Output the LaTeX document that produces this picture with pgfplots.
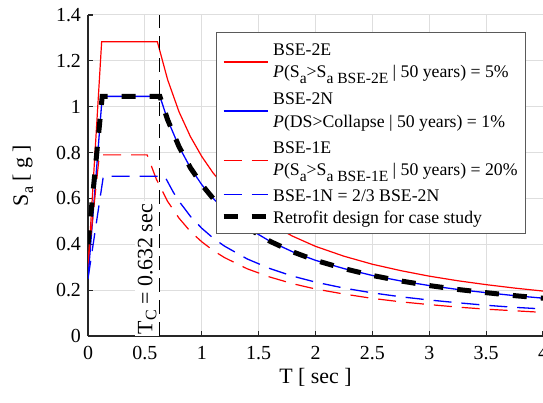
\documentclass[border=0pt]{standalone}
\usepackage{fontspec}
\setmainfont{Liberation Serif}
\usepackage{pgfplots}
\pgfplotsset{compat=1.18}
\definecolor{gridgray}{RGB}{222,222,222}
\definecolor{axgray}{RGB}{38,38,38}
\definecolor{leggray}{RGB}{90,90,90}
\newcommand\lsub[1]{\raisebox{-3bp}{\fontsize{7.8}{8}\selectfont #1}}
\newcommand\topstrut{\rule{0pt}{7.5pt}}
\newcommand\botstrut{\rule[-2.5pt]{0pt}{0pt}}
\pgfplotsset{twoline/.style={legend image code/.code={\draw[##1] (0bp,0bp) -- (22bp,0bp);}}}
\begin{document}
\begin{tikzpicture}
\begin{axis}[
  at={(0,0)}, anchor=south west,
  scale only axis, width=227.5bp, height=160.5bp,
  xmin=0, xmax=4, ymin=0, ymax=1.4,
  xtick={0,0.5,1,1.5,2,2.5,3,3.5,4},
  ytick={0,0.2,0.4,0.6,0.8,1,1.2,1.4},
  axis x line*=bottom, axis y line*=left,
  axis line style={axgray, line width=0.75bp},
  major tick length=2.5bp, tick style={axgray, line width=0.6bp},
  tick align=inside,
  grid=major, major grid style={gridgray, line width=0.5bp},
  /pgf/number format/assume math mode=true,
  ticklabel style={font=\fontsize{10}{12}\selectfont},
  xticklabel style={yshift=-1.5bp},
  label style={font=\fontsize{11}{13}\selectfont},
  xlabel={T [ sec ]}, ylabel={S\raisebox{-2.5bp}{\fontsize{8}{9}\selectfont a} [ g ]},
  xlabel style={at={(axis description cs:0.5,0)}, anchor=center, yshift=-20.5bp},
  ylabel style={at={(axis description cs:-0.143,0.5)}, anchor=center},
  legend cell align=left,
  legend image code/.code={\draw[#1] (0bp,0.6bp) -- (22bp,0.6bp);},
  legend style={at={(0.963,0.948)}, anchor=north east, draw=leggray, line width=0.6bp,
    fill=white, font=\fontsize{8.9}{11.3}\selectfont, inner sep=2.5bp, row sep=0pt,
    nodes={inner sep=1.5bp, text height=7pt, text depth=1pt}},
]
\addplot[red, line width=0.6bp, twoline] coordinates {
(0,0.29) (0.12,1.283) (0.61,1.283) (0.7,1.118) (0.8,0.978) (0.9,0.870) (1.0,0.783)
(1.1,0.711) (1.2,0.652) (1.4,0.559) (1.6,0.489) (1.8,0.435) (2.0,0.391) (2.25,0.348)
(2.5,0.313) (2.75,0.285) (3.0,0.261) (3.25,0.241) (3.5,0.224) (3.75,0.209) (4.0,0.196)};
\addlegendentry[align=left, text height=, text depth=]{\topstrut BSE-2E\\\textit{P}(S\lsub{a}>S\lsub{a BSE-2E} | 50 years) = 5\%\botstrut}
\addplot[blue, line width=0.65bp, twoline] coordinates {
(0,0.25) (0.125,1.045) (0.632,1.045) (0.7,0.943) (0.8,0.826) (0.9,0.734) (1.0,0.660)
(1.1,0.600) (1.2,0.550) (1.4,0.472) (1.6,0.413) (1.8,0.367) (2.0,0.330) (2.25,0.294)
(2.5,0.264) (2.75,0.240) (3.0,0.220) (3.25,0.203) (3.5,0.189) (3.75,0.176) (4.0,0.165)};
\addlegendentry[align=left, text height=, text depth=]{\topstrut BSE-2N\\\textit{P}(DS>Collapse | 50 years) = 1\%\botstrut}
\addplot[red, line width=0.6bp, dash pattern=on 9bp off 5bp, twoline] coordinates {
(0,0.32) (0.10,0.79) (0.52,0.79) (0.6,0.685) (0.7,0.587) (0.8,0.514) (0.9,0.456) (1.0,0.411)
(1.1,0.373) (1.2,0.342) (1.4,0.293) (1.6,0.257) (1.8,0.228) (2.0,0.205) (2.25,0.183)
(2.5,0.164) (2.75,0.149) (3.0,0.137) (3.25,0.126) (3.5,0.117) (3.75,0.110) (4.0,0.103)};
\addlegendentry[align=left, text height=, text depth=]{\topstrut BSE-1E\\\textit{P}(S\lsub{a}>S\lsub{a BSE-1E} | 50 years) = 20\%\botstrut}
\addplot[blue, line width=0.65bp, dash pattern=on 9bp off 5bp] coordinates {
(0,0.25) (0.135,0.697) (0.674,0.697) (0.75,0.627) (0.8,0.588) (0.9,0.522) (1.0,0.470)
(1.1,0.427) (1.2,0.392) (1.4,0.336) (1.6,0.294) (1.8,0.261) (2.0,0.235) (2.25,0.209)
(2.5,0.188) (2.75,0.171) (3.0,0.157) (3.25,0.145) (3.5,0.134) (3.75,0.125) (4.0,0.118)};
\addlegendentry{BSE-1N = 2/3 BSE-2N}
\addplot[black, line width=2.5bp, dash pattern=on 7bp off 7bp] coordinates {
(0,0.40) (0.125,1.045) (0.632,1.045) (0.7,0.943) (0.8,0.826) (0.9,0.734) (1.0,0.660)
(1.1,0.600) (1.2,0.550) (1.4,0.472) (1.6,0.413) (1.8,0.367) (2.0,0.330) (2.25,0.294)
(2.5,0.264) (2.75,0.240) (3.0,0.220) (3.25,0.203) (3.5,0.189) (3.75,0.176) (4.0,0.165)};
\addlegendentry{Retrofit design for case study}
\node[rotate=90, anchor=south west, fill=white, inner sep=1.5bp, xshift=-0.8bp,
  font=\fontsize{11}{13}\selectfont] at (axis cs:0.632,0) {T\raisebox{-2bp}{\fontsize{8}{9}\selectfont C} = 0.632 sec};
\addplot[black, line width=0.6bp, dash pattern=on 7bp off 4bp, forget plot] coordinates {(0.632,0) (0.632,1.4)};
\end{axis}
\pgfresetboundingbox
\path (-44bp,-33.5bp) rectangle (227.5bp,168bp);
\end{tikzpicture}
\end{document}
